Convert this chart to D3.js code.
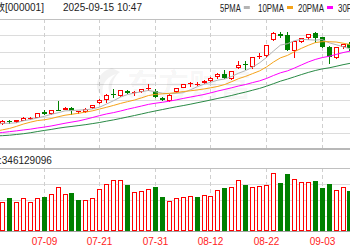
<!DOCTYPE html>
<html>
<head>
<meta charset="utf-8">
<script src="https://cdn.jsdelivr.net/npm/d3@7"></script>
<style>
  body { margin: 0; background: #fff; }
  svg { display: block; font-family: 'Liberation Sans', Arial, sans-serif; }
</style>
</head>
<body>
<svg id="chart" width="350" height="250"></svg>
<script>
'use strict';

// trading days, 06-30 and 09-10 sit just outside the visible window
var dates = ['06-30','07-01','07-02','07-03','07-04','07-07','07-08','07-09','07-10','07-11','07-14','07-15','07-16','07-17','07-18',
  '07-21','07-22','07-23','07-24','07-25','07-28','07-29','07-30','07-31','08-01','08-04','08-05','08-06','08-07','08-08',
  '08-11','08-12','08-13','08-14','08-15','08-18','08-19','08-20','08-21','08-22','08-25','08-26','08-27','08-28','08-29',
  '09-01','09-02','09-03','09-04','09-05','09-08','09-09','09-10'];

var opens  = [3424,3444,3456,3452,3458,3470,3473,3500,3491,3512,3512,3521,3500,3500,3518,
  3542,3558,3588,3580,3600,3592,3596,3612,3603,3566,3553,3597,3617,3634,3630,
  3640,3650,3668,3686,3660,3712,3731,3718,3767,3772,3848,3877,3872,3797,3840,
  3855,3880,3860,3813,3762,3815,3830,3807];
var highs  = [3449,3462,3460,3462,3474,3477,3498,3509,3511,3553,3524,3524,3507,3519,3536,
  3561,3585,3613,3608,3608,3600,3611,3636,3612,3575,3585,3618,3636,3646,3646,
  3653,3668,3688,3704,3699,3746,3746,3767,3787,3826,3884,3888,3888,3845,3858,
  3876,3886,3862,3818,3816,3830,3836,3820];
var lows   = [3421,3440,3443,3445,3455,3464,3471,3488,3488,3505,3508,3486,3490,3496,3515,
  3538,3546,3567,3575,3585,3580,3590,3602,3567,3552,3550,3594,3614,3623,3628,
  3635,3645,3660,3660,3655,3706,3705,3706,3755,3763,3843,3859,3795,3761,3832,
  3848,3834,3807,3733,3755,3805,3795,3795];
var closes = [3444.4,3457.8,3454.8,3461.2,3472.3,3473.1,3497.5,3493.1,3509.7,3510.2,3519.7,3505.0,3503.8,3516.8,3534.5,
  3559.8,3581.9,3582.3,3605.7,3593.7,3597.9,3609.7,3615.7,3573.2,3560.0,3583.3,3617.6,3634.0,3639.7,3635.1,
  3647.6,3665.9,3683.5,3666.4,3696.8,3728.0,3727.3,3766.2,3771.1,3825.8,3883.6,3868.4,3800.4,3843.6,3857.9,
  3875.5,3858.1,3813.6,3765.9,3812.5,3826.8,3807.3,3812.2];
var prevClose = 3424.2;

// volume, 100 million
var volumes = [4.6,3.8,4.2,3.8,4.2,3.8,4.2,4.4,4.75,5.6,4.75,4.85,4.0,4.0,4.2,
  5.4,6.0,6.5,6.5,5.9,4.95,5.1,5.4,5.6,4.4,3.9,4.2,4.35,4.55,4.4,
  4.6,4.55,5.25,5.45,5.65,6.5,5.9,5.65,5.8,5.9,7.35,6.1,7.25,6.6,6.2,
  6.2,6.4,5.45,6.0,5.25,5.6,5.15,5.0];

var ma5  = [3438.7,3446.2,3445.9,3448.5,3458.1,3463.8,3471.8,3479.4,3489.1,3496.7,3506.0,3507.5,3509.7,3511.1,3516.0,
  3524.0,3539.4,3555.1,3572.8,3584.7,3592.3,3597.9,3604.5,3598.0,3591.3,3588.4,3590.0,3593.6,3606.9,3621.9,
  3634.8,3644.5,3654.4,3659.7,3672.0,3688.1,3700.4,3716.9,3737.9,3763.7,3794.8,3823.0,3829.9,3844.4,3850.8,
  3849.2,3847.1,3849.7,3834.2,3825.1,3815.4,3805.2,3804.9];
var ma10 = [3407.4,3414.4,3421.0,3430.9,3442.2,3451.3,3459.0,3462.7,3468.8,3477.4,3484.9,3489.7,3494.6,3500.1,3506.4,
  3515.0,3523.5,3532.4,3542.0,3550.4,3558.2,3568.7,3579.8,3585.4,3588.0,3590.4,3594.0,3599.1,3602.5,3606.6,
  3611.6,3617.3,3624.0,3633.3,3647.0,3661.5,3672.5,3685.7,3698.8,3717.9,3741.5,3761.7,3773.4,3791.2,3807.3,
  3822.0,3835.1,3839.8,3839.3,3838.0,3832.3,3826.2,3827.3];
var ma20 = [3398.0,3401.7,3405.6,3409.4,3413.8,3417.5,3423.1,3427.6,3433.0,3439.6,3446.2,3452.1,3457.8,3465.5,3474.3,
  3483.2,3491.3,3497.6,3505.4,3513.9,3521.6,3529.2,3537.2,3542.8,3547.2,3552.7,3558.8,3565.8,3572.3,3578.5,
  3584.9,3593.0,3601.9,3609.4,3617.5,3626.0,3633.3,3642.4,3650.7,3662.3,3676.6,3689.5,3698.7,3712.3,3727.2,
  3741.8,3753.8,3762.8,3769.1,3778.0,3786.9,3794.0,3800.4];
var ma30 = [3385.3,3386.3,3388.5,3392.0,3395.7,3400.3,3406.0,3411.4,3416.3,3422.2,3427.0,3431.0,3435.2,3439.6,3444.7,
  3450.0,3456.5,3462.5,3469.3,3476.5,3483.5,3490.9,3498.5,3505.5,3512.2,3518.9,3525.5,3531.4,3537.8,3544.8,
  3551.6,3558.6,3566.1,3572.9,3580.5,3589.0,3596.7,3605.7,3614.4,3625.0,3637.1,3649.2,3659.1,3670.0,3680.8,
  3691.3,3700.5,3708.2,3713.5,3720.8,3728.5,3735.1,3741.6];

var tickDates = ['07-09','07-21','07-31','08-12','08-22','09-03'];
var maNames = ['5PMA','10PMA','20PMA','30PMA'];
var maColors = ['#b4b4b4','#f5a31a','#ff00ff','#2a8a46'];

var RED = '#ff0000', GREEN = '#008000';
var W = 350;
var priceTop = 19, priceBottom = 149, volTop = 168, volBottom = 232;

var svg = d3.select('#chart');
svg.append('rect').attr('width', W).attr('height', 250).attr('fill', '#fff');

var x = d3.scaleBand()
  .domain(dates)
  .range([-7.95, -7.95 + dates.length * 6.95])
  .paddingInner(0.28)
  .paddingOuter(0.14);
var bw = 5;
var cx = function(d) { return Math.round(x(d)) + 2.5; };

var y = d3.scaleLinear().domain([3322, 3949]).range([priceBottom, priceTop]);
var yv = d3.scaleLinear().domain([0, 8]).range([volBottom, volTop]);
var rows = d3.scaleLinear().domain([0, 8]).range([priceBottom, priceTop]);

// horizontal grid
var grid = svg.append('g').attr('class', 'grid');
grid.selectAll('line.p')
  .data(d3.range(1, 8))
  .enter().append('line')
  .attr('class', 'p')
  .attr('x1', 0).attr('x2', W)
  .attr('y1', function(d) { return Math.round(rows(d)) + 0.5; })
  .attr('y2', function(d) { return Math.round(rows(d)) + 0.5; })
  .attr('stroke', '#dcdcdc');
grid.selectAll('line.v')
  .data(yv.ticks(4).filter(function(t) { return t > 0 && t < 8; }))
  .enter().append('line')
  .attr('class', 'v')
  .attr('x1', 0).attr('x2', W)
  .attr('y1', function(d) { return Math.round(yv(d)) + 0.5; })
  .attr('y2', function(d) { return Math.round(yv(d)) + 0.5; })
  .attr('stroke', '#dcdcdc');

// vertical dashed grid at tick dates
[[priceTop, priceBottom], [volTop, volBottom]].forEach(function(span) {
  grid.selectAll(null)
    .data(tickDates)
    .enter().append('line')
    .attr('x1', function(d) { return Math.round(x(d)) + 2.5; })
    .attr('x2', function(d) { return Math.round(x(d)) + 2.5; })
    .attr('y1', span[0]).attr('y2', span[1])
    .attr('stroke', '#cfcfcf')
    .attr('stroke-dasharray', '4,3');
});

// frame lines
var frame = [[priceTop + 0.5, '#c0c0c0', 1], [priceBottom, '#b8b8b8', 2], [volTop + 0.5, '#c0c0c0', 1], [volBottom - 0.5, '#a0a0a0', 1]];
svg.selectAll('line.frame')
  .data(frame)
  .enter().append('line')
  .attr('class', 'frame')
  .attr('x1', 0).attr('x2', W)
  .attr('y1', function(d) { return d[0]; })
  .attr('y2', function(d) { return d[0]; })
  .attr('stroke', function(d) { return d[1]; })
  .attr('stroke-width', function(d) { return d[2]; });

// watermark
svg.append('text')
  .attr('x', 127).attr('y', 96)
  .style('font-family', "'Noto Sans CJK SC', sans-serif")
  .style('font-weight', 'bold')
  .style('font-size', '31px')
  .attr('fill', '#000')
  .attr('fill-opacity', 0.05)
  .text('东方财富');
svg.append('path')
  .attr('d', 'M112,68 C96,72 92,90 104,98 C100,88 104,78 116,74 C108,80 106,90 112,96 C110,86 114,76 120,72 Z')
  .attr('fill', '#000')
  .attr('fill-opacity', 0.05);

// candles
var candles = dates.map(function(d, i) {
  return { date: d, o: opens[i], h: highs[i], l: lows[i], c: closes[i] };
});
var cg = svg.append('g').attr('class', 'candles');
cg.selectAll('line')
  .data(candles)
  .enter().append('line')
  .attr('x1', function(d) { return cx(d.date); })
  .attr('x2', function(d) { return cx(d.date); })
  .attr('y1', function(d) { return Math.round(y(d.h)); })
  .attr('y2', function(d) { return Math.round(y(d.l)); })
  .attr('stroke', function(d) { return d.c >= d.o ? RED : GREEN; });

cg.selectAll('rect')
  .data(candles)
  .enter().append('rect')
  .each(function(d) {
    var up = d.c >= d.o;
    var top = Math.round(y(Math.max(d.o, d.c)));
    var bot = Math.round(y(Math.min(d.o, d.c)));
    var left = Math.round(x(d.date));
    var el = d3.select(this);
    if (bot - top <= 2 || !up) {
      el.attr('x', left).attr('y', top)
        .attr('width', bw).attr('height', Math.max(1, bot - top))
        .attr('fill', up ? RED : GREEN);
    } else {
      el.attr('x', left + 0.5).attr('y', top + 0.5)
        .attr('width', bw - 1).attr('height', bot - top - 1)
        .attr('fill', '#fff').attr('stroke', RED);
    }
  });

// moving averages
var line = d3.line()
  .x(function(d) { return x(d.date) + x.bandwidth() / 2; })
  .y(function(d) { return y(d.v); });
[ma5, ma10, ma20, ma30].forEach(function(series, k) {
  svg.append('path')
    .datum(dates.map(function(d, i) { return { date: d, v: series[i] }; }))
    .attr('d', line)
    .attr('fill', 'none')
    .attr('stroke', maColors[k])
    .attr('stroke-width', 1);
});

// volume bars
var vols = dates.map(function(d, i) {
  var prev = i === 0 ? prevClose : closes[i - 1];
  return { date: d, v: volumes[i], up: closes[i] >= prev };
});
svg.append('g').attr('class', 'volume')
  .selectAll('rect')
  .data(vols)
  .enter().append('rect')
  .each(function(d) {
    var top = Math.round(yv(d.v));
    var left = Math.round(x(d.date));
    var el = d3.select(this);
    if (d.up) {
      el.attr('x', left + 0.5).attr('y', top + 0.5)
        .attr('width', bw - 1).attr('height', volBottom - 1 - top - 1)
        .attr('fill', '#fff').attr('stroke', RED);
    } else {
      el.attr('x', left).attr('y', top)
        .attr('width', bw).attr('height', volBottom - 1 - top)
        .attr('fill', GREEN);
    }
  });

// date labels
svg.selectAll('text.date')
  .data(tickDates)
  .enter().append('text')
  .attr('class', 'date')
  .attr('x', function(d) { return Math.round(x(d)) + 2.5; })
  .attr('y', 245)
  .attr('text-anchor', 'middle')
  .style('font-size', '10px')
  .attr('fill', '#f22')
  .text(function(d) { return d; });

// header
svg.append('text')
  .attr('x', 5).attr('y', 11)
  .attr('text-anchor', 'end')
  .style('font-family', "'Noto Sans CJK SC', sans-serif")
  .style('font-size', '10px')
  .attr('fill', '#222')
  .text('上证指数');
svg.append('text')
  .attr('x', 5).attr('y', 11)
  .style('font-size', '10px')
  .attr('fill', '#222')
  .text('[000001]');
svg.append('text')
  .attr('x', 63).attr('y', 11)
  .style('font-size', '10px')
  .attr('fill', '#222')
  .text('2025-09-15 10:47');

// legend
var legendX = [220, 258, 298, 338];
var lg = svg.selectAll('g.legend')
  .data(maNames)
  .enter().append('g')
  .attr('class', 'legend')
  .attr('transform', function(d, i) { return 'translate(' + legendX[i] + ',0)'; });
lg.append('text')
  .attr('y', 11.5)
  .attr('textLength', function(d) { return d.length * 5.2; })
  .attr('lengthAdjust', 'spacingAndGlyphs')
  .style('font-size', '10px')
  .attr('fill', '#222')
  .text(function(d) { return d; });
lg.append('rect')
  .attr('x', function(d) { return d.length * 5.2 + 3; })
  .attr('y', 6).attr('width', 6).attr('height', 3)
  .attr('fill', function(d, i) { return maColors[i]; });

// volume readout
svg.append('text')
  .attr('x', -1).attr('y', 163.5)
  .style('font-size', '10px')
  .attr('fill', '#222')
  .text(':346129096');
</script>
</body>
</html>
